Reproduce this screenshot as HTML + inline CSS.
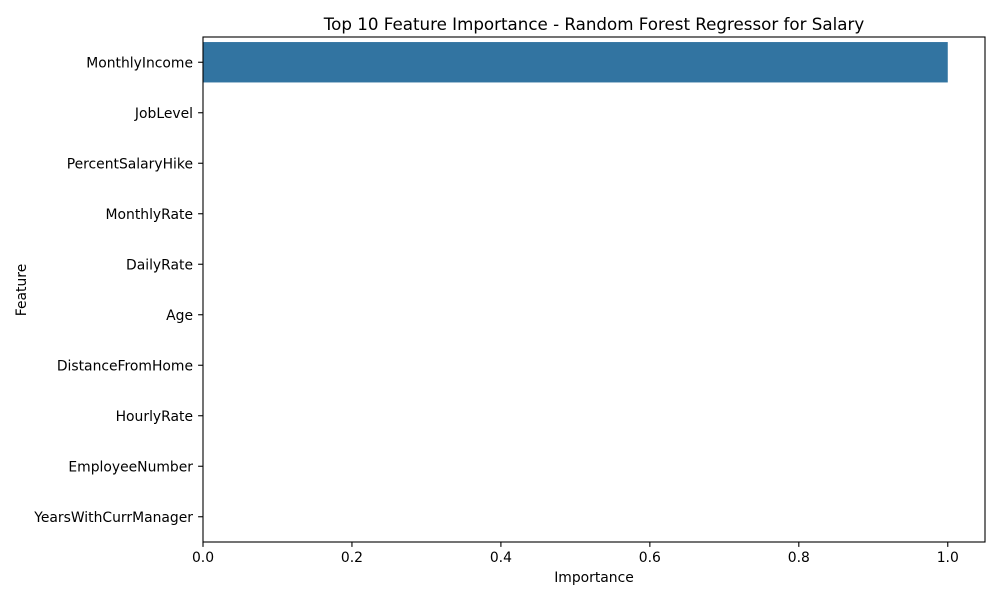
<!DOCTYPE html>
<html><head><meta charset="utf-8"><style>
body{margin:0;background:#fff;}
svg text{font-family:"DejaVu Sans","Liberation Sans",sans-serif;fill:#000;}
</style></head><body>
<svg id="chart" width="1000" height="600" xmlns="http://www.w3.org/2000/svg">
<text x="594" y="30" font-size="16.7" text-anchor="middle">Top 10 Feature Importance - Random Forest Regressor for Salary</text>
<g id="plot"></g>
<text x="594" y="582" font-size="13.9" text-anchor="middle">Importance</text>
<text x="26" y="290" font-size="13.9" text-anchor="middle" transform="rotate(-90 26 290)">Feature</text>
</svg>
<script>
const features = ["MonthlyIncome","JobLevel","PercentSalaryHike","MonthlyRate","DailyRate","Age","DistanceFromHome","HourlyRate","EmployeeNumber","YearsWithCurrManager"];
const importances = [1.0,0.0001,0.0001,0.0001,0.0001,0.0001,0.0001,0.0001,0.0001,0.0001];
const xTicks = [0.0,0.2,0.4,0.6,0.8,1.0];
const L=203,R=985,T=37,B=542,XMAX=1.05;
const NS="http://www.w3.org/2000/svg";
const g=document.getElementById('plot');
const xs=v=>L+(v/XMAX)*(R-L);
const step=(B-T)/features.length;
const yc=i=>T+step*(i+0.5);
function mk(tag,a){const e=document.createElementNS(NS,tag);for(const k in a)e.setAttribute(k,a[k]);g.appendChild(e);return e;}
features.forEach((f,i)=>{
  const r=mk('rect',{x:L,y:yc(i)-step*0.4,width:xs(importances[i])-L,height:step*0.8,fill:'#3274a1'});
  
  
  const tk=mk('line',{x1:L-4.9,x2:L,y1:yc(i),y2:yc(i),stroke:'#000','stroke-width':1.1});
  
  
  const t=mk('text',{x:L-10,y:yc(i)+5,'font-size':13.9,'text-anchor':'end'});
  t.textContent=f;
  
  
});
xTicks.forEach(v=>{
  const tk=mk('line',{x1:xs(v),x2:xs(v),y1:B,y2:B+4.9,stroke:'#000','stroke-width':1.1});
  
  
  const t=mk('text',{x:xs(v),y:B+20,'font-size':13.9,'text-anchor':'middle'});
  t.textContent=v.toFixed(1);
  
  
});
const fr=mk('rect',{x:L,y:T,width:R-L,height:B-T,fill:'none',stroke:'#000','stroke-width':1.1});


</script>
</body></html>
